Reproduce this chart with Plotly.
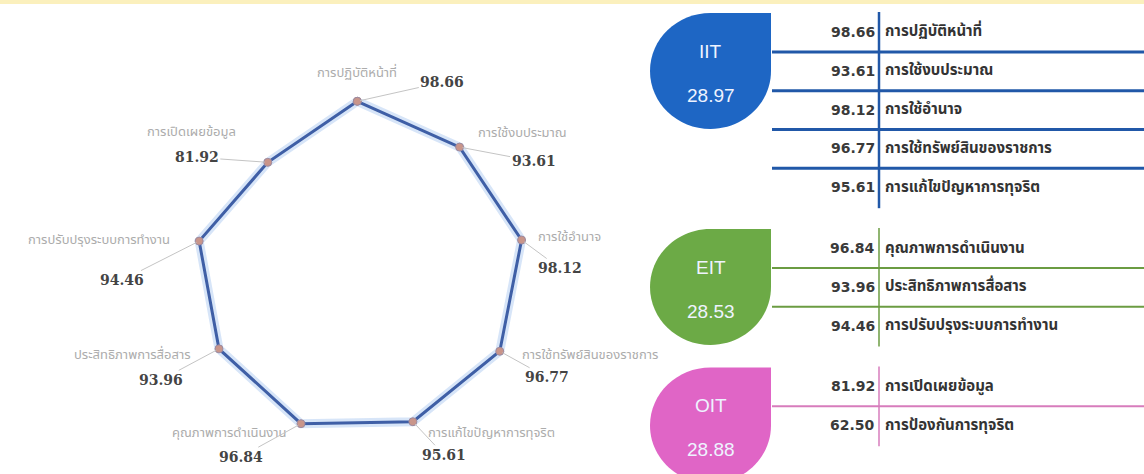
import math
import plotly.graph_objects as go

# ---------------- data ----------------
indicators = ["การปฏิบัติหน้าที่", "การใช้งบประมาณ", "การใช้อำนาจ",
              "การใช้ทรัพย์สินของราชการ", "การแก้ไขปัญหาการทุจริต",
              "คุณภาพการดำเนินงาน", "ประสิทธิภาพการสื่อสาร",
              "การปรับปรุงระบบการทำงาน", "การเปิดเผยข้อมูล", "การป้องกันการทุจริต"]
scores = [98.66, 93.61, 98.12, 96.77, 95.61, 96.84, 93.96, 94.46, 81.92, 62.50]
radar_count = 9  # first nine indicators appear on the radar

groups = ["IIT", "EIT", "OIT"]
group_scores = [28.97, 28.53, 28.88]
group_sizes = [5, 3, 2]
group_colors = ["#1e66c4", "#6caa46", "#e065c6"]
group_line_colors = ["#2158a8", "#6b9c42", "#d77cbc"]

# ---------------- layout constants ----------------
W, H = 1144, 474
CX, CY, R = 357.3, 269.0, 170.0   # radar centre / radius in px
RMAX = 100
THAI = "Noto Sans Thai, Noto Sans, sans-serif"


def px(x):
    return x / W


def py(y):
    return 1 - y / H


def vertex_px(value, idx):
    t = math.radians(idx * 360 / radar_count)
    return CX + value / RMAX * R * math.sin(t), CY - value / RMAX * R * math.cos(t)


fig = go.Figure()

r_vals = scores[:radar_count] + [scores[0]]
thetas = [i * 360 / radar_count for i in range(radar_count)] + [0]

fig.add_trace(go.Scatterpolar(r=r_vals, theta=thetas, mode="lines",
                              line=dict(color="rgba(140,180,235,0.35)", width=9),
                              hoverinfo="skip"))
fig.add_trace(go.Scatterpolar(r=r_vals, theta=thetas, mode="lines+markers",
                              line=dict(color="#3f5fa6", width=3),
                              marker=dict(size=8, color="#c9958a",
                                          line=dict(color="#9b8aa0", width=1)),
                              text=indicators[:radar_count] + [indicators[0]],
                              hovertemplate="%{text}: %{r}<extra></extra>"))

fig.update_layout(
    width=W, height=H, showlegend=False,
    margin=dict(l=0, r=0, t=0, b=0),
    paper_bgcolor="white", plot_bgcolor="white",
    polar=dict(
        domain=dict(x=[px(CX - R), px(CX + R)], y=[py(CY + R), py(CY - R)]),
        bgcolor="rgba(0,0,0,0)",
        radialaxis=dict(visible=False, range=[0, RMAX]),
        angularaxis=dict(visible=False, rotation=90, direction="clockwise",
                         thetaunit="degrees"),
    ),
)

# radar label placement (pixel offsets from each vertex)
cat_off = [(0, -28), (63, -14), (48, -3), (90, 4), (79, 11),
           (-71, 9), (-86, 6), (-100, -1), (-76, -30)]
val_off = [(85, -19), (74, 14), (38, 28), (47, 26), (31, 33),
           (-60, 33), (-58, 31), (-77, 39), (-71, -5)]

annotations = []
for i in range(radar_count):
    vx, vy = vertex_px(scores[i], i)
    annotations.append(dict(x=px(vx), y=py(vy), xref="paper", yref="paper",
                            text=indicators[i], showarrow=False,
                            xanchor="center", yanchor="middle",
                            xshift=cat_off[i][0], yshift=-cat_off[i][1],
                            font=dict(size=13, color="#acacac", family=THAI)))
    annotations.append(dict(x=px(vx), y=py(vy), xref="paper", yref="paper",
                            text="<b>%.2f</b>" % scores[i], showarrow=True,
                            ax=val_off[i][0], ay=val_off[i][1],
                            xanchor="center", yanchor="middle",
                            arrowhead=0, arrowwidth=1, arrowcolor="#c4c4c4",
                            standoff=3,
                            font=dict(size=14, color="#444444", family="DejaVu Serif")))

# ---------------- right-hand table ----------------
ROW0, PITCH, GAP = 32.0, 38.8, 22.0
LEAF_X0, LEAF_X1 = 650.0, 771.0
LINE_X0 = 772.0
VLINE_X = 879.0
K = 0.5523

shapes = [dict(type="rect", xref="paper", yref="paper", x0=0, x1=1,
               y0=py(4), y1=1, fillcolor="#fbf0bd", line=dict(width=0), layer="below")]

j = 0
for g, name in enumerate(groups):
    rows = [ROW0 + (j + k) * PITCH + g * GAP for k in range(group_sizes[g])]
    top = rows[0] - 19
    bot = top + 116
    cx_l = (LEAF_X0 + LEAF_X1) / 2
    cy_l = (top + bot) / 2
    rx, ry = (LEAF_X1 - LEAF_X0) / 2, (bot - top) / 2
    pts = [
        ("M", [(LEAF_X1, top)]),
        ("L", [(cx_l, top)]),
        ("C", [(cx_l - K * rx, top), (LEAF_X0, cy_l - K * ry), (LEAF_X0, cy_l)]),
        ("C", [(LEAF_X0, cy_l + K * ry), (cx_l - K * rx, bot), (cx_l, bot)]),
        ("C", [(cx_l + K * rx, bot), (LEAF_X1, cy_l + K * ry), (LEAF_X1, cy_l)]),
    ]
    path = ""
    for cmd, pl in pts:
        path += cmd + " " + " ".join("%.5f,%.5f" % (px(a), py(b)) for a, b in pl) + " "
    path += "Z"
    shapes.append(dict(type="path", xref="paper", yref="paper", path=path,
                       fillcolor=group_colors[g], line=dict(width=0)))
    annotations.append(dict(x=px(cx_l), y=py(top + 38), xref="paper", yref="paper",
                            text=name, showarrow=False,
                            xanchor="center", yanchor="middle",
                            font=dict(size=19, color="#eef3ff", family="Liberation Sans")))
    annotations.append(dict(x=px(cx_l), y=py(top + 82), xref="paper", yref="paper",
                            text="%.2f" % group_scores[g], showarrow=False,
                            xanchor="center", yanchor="middle",
                            font=dict(size=19, color="#eef3ff", family="Liberation Sans")))
    # separators
    for k in range(len(rows) - 1):
        ys = (rows[k] + rows[k + 1]) / 2 + 0.5
        shapes.append(dict(type="line", xref="paper", yref="paper",
                           x0=px(LINE_X0), x1=1, y0=py(ys), y1=py(ys),
                           line=dict(color=group_line_colors[g],
                                     width=3 if g == 0 else 2)))
    shapes.append(dict(type="line", xref="paper", yref="paper",
                       x0=px(VLINE_X), x1=px(VLINE_X),
                       y0=py(rows[0] - 20), y1=py(rows[-1] + 21),
                       line=dict(color=group_line_colors[g], width=2.5 if g == 0 else 1.5)))
    for k, ry_ in enumerate(rows):
        idx = j + k
        annotations.append(dict(x=px(VLINE_X - 2), y=py(ry_), xref="paper", yref="paper",
                                text="<b>%.2f</b>" % scores[idx], showarrow=False,
                                xanchor="right", yanchor="middle",
                                font=dict(size=14, color="#3a3a3a", family="DejaVu Sans")))
        annotations.append(dict(x=px(VLINE_X + 4), y=py(ry_), xref="paper", yref="paper",
                                text="<b>%s</b>" % indicators[idx], showarrow=False,
                                xanchor="left", yanchor="middle",
                                font=dict(size=15, color="#333333", family=THAI)))
    j += group_sizes[g]

fig.update_layout(shapes=shapes, annotations=annotations)
fig.write_html("out.html", config={"displayModeBar": False},
               post_script="document.body.style.margin='0';document.body.style.padding='0';")
